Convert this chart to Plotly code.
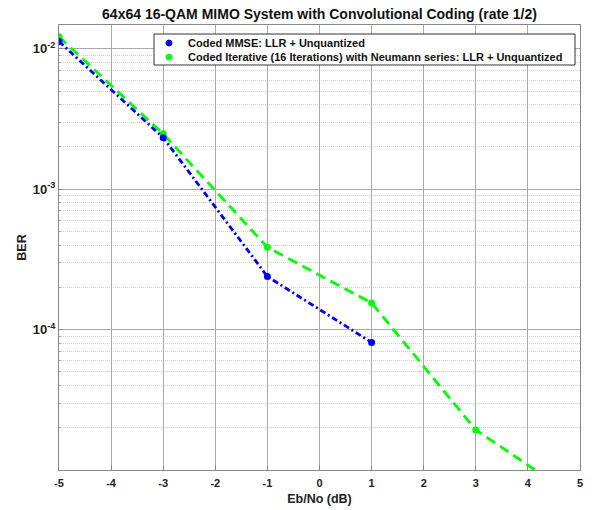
import plotly.graph_objects as go

# Data
ebno_mmse = [-5, -3, -1, 1]
ber_mmse = [1.13e-2, 2.33e-3, 2.39e-4, 8.1e-5]

ebno_iter = [-5, -3, -1, 1, 3, 5]
ber_iter = [1.22e-2, 2.48e-3, 3.86e-4, 1.55e-4, 1.93e-5, 6.1e-6]

name_mmse = "Coded MMSE: LLR + Unquantized"
name_iter = "Coded Iterative (16 Iterations) with Neumann series: LLR + Unquantized"

x_ticks = [-5, -4, -3, -2, -1, 0, 1, 2, 3, 4, 5]
x_ticktext = ["-5", "-4", "-3", "-2", "-1", "0", "1", "2", "3", "4", "5"]
y_ticks = [1e-4, 1e-3, 1e-2]
y_ticktext = ["10<sup>-4</sup>", "10<sup>-3</sup>", "10<sup>-2</sup>"]
y_minor = [m * 10.0 ** e for e in (-5, -4, -3, -2) for m in range(2, 10)]

BLUE = "#0000ff"
GREEN = "#00ff00"
FONT = "Liberation Sans, Arial, sans-serif"

W, H = 595, 510
L, R, T, B = 59, 15, 25, 40
PW, PH = W - L - R, H - T - B


def px(x):
    return (x - L) / PW


def py(y):
    return (H - B - y) / PH


fig = go.Figure()

fig.add_trace(go.Scatter(
    x=ebno_iter, y=ber_iter, mode="lines+markers", name=name_iter, showlegend=False,
    line=dict(color=GREEN, width=2.8, dash="10px,6px"),
    marker=dict(color=GREEN, size=7, symbol="circle"),
))
fig.add_trace(go.Scatter(
    x=ebno_mmse, y=ber_mmse, mode="lines+markers", name=name_mmse, showlegend=False,
    line=dict(color=BLUE, width=2.8, dash="6px,3px,2px,3px"),
    marker=dict(color=BLUE, size=7, symbol="circle"),
))

# Legend drawn as a box with marker symbols and labels (markers only, as in the original)
shapes = [dict(type="rect", xref="paper", yref="paper",
               x0=px(154), x1=px(575), y0=py(65), y1=py(34),
               line=dict(color="#333333", width=1), fillcolor="white", layer="above")]
annotations = []
for i, (nm, col, edge) in enumerate([(name_mmse, BLUE, "#0000aa"), (name_iter, GREEN, GREEN)]):
    yc = 43 + 14 * i
    shapes.append(dict(type="circle", xref="paper", yref="paper",
                       xsizemode="pixel", ysizemode="pixel",
                       xanchor=px(169), yanchor=py(yc), x0=-3, x1=3, y0=-3, y1=3,
                       fillcolor=col, line=dict(color=edge, width=1), layer="above"))
    annotations.append(dict(text="<b>" + nm + "</b>", xref="paper", yref="paper",
                            x=px(186), y=py(yc), xanchor="left", yanchor="middle",
                            showarrow=False, font=dict(size=11, color="#111111")))

fig.update_layout(
    width=W, height=H,
    margin=dict(l=L, r=R, t=T, b=B, autoexpand=False),
    paper_bgcolor="white", plot_bgcolor="white",
    font=dict(family=FONT, size=11, color="#1a1a1a"),
    title=dict(text="<b>64x64 16-QAM MIMO System with Convolutional Coding (rate 1/2)</b>",
               x=(L + W - R) / 2 / W, xanchor="center", y=1 - 14 / H, yanchor="middle",
               font=dict(size=14, color="#111111")),
    showlegend=False,
    shapes=shapes,
    annotations=annotations,
)

fig.update_xaxes(
    range=[-5, 5], tickmode="array", tickvals=x_ticks, ticktext=x_ticktext,
    automargin=False,
    showgrid=True, gridcolor="#a8a8a8", gridwidth=1,
    showline=True, linecolor="#888888", linewidth=1, mirror=True,
    ticks="inside", ticklen=4, tickcolor="#888888",
    ticklabelstandoff=3,
    tickfont=dict(size=11, weight="bold", color="#222222"),
    title=dict(text="<b>Eb/No (dB)</b>", font=dict(size=12.5, color="#222222"), standoff=6),
    zeroline=False,
)
fig.update_yaxes(
    type="log", range=[-5, -1.83], tickmode="array", tickvals=y_ticks, ticktext=y_ticktext,
    automargin=False,
    showgrid=True, gridcolor="#a8a8a8", gridwidth=1,
    minor=dict(tickvals=y_minor, showgrid=True, gridcolor="#cfcfcf", griddash="1px,1px",
               gridwidth=1, ticks="inside", ticklen=2, tickcolor="#aaaaaa"),
    showline=True, linecolor="#888888", linewidth=1, mirror=True,
    ticks="inside", ticklen=4, tickcolor="#888888",
    tickfont=dict(size=13, weight="bold", color="#222222"),
    title=dict(text="<b>BER</b>", font=dict(size=12.5, color="#222222"), standoff=3),
    zeroline=False,
)

fig.write_html("out.html", config={"displayModeBar": False},
               post_script="document.body.style.margin='0';")
